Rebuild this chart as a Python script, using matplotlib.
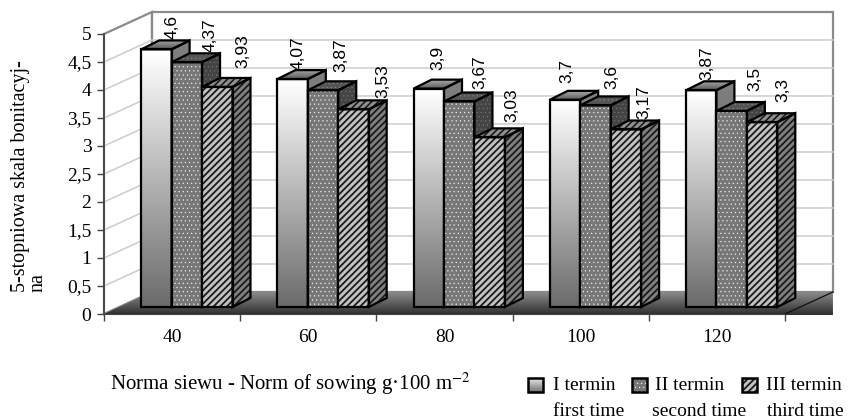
import numpy as np
import matplotlib
matplotlib.use('Agg')
import matplotlib.pyplot as plt
from matplotlib.patches import Polygon, Rectangle

plt.rcParams['font.family'] = ['Liberation Serif', 'DejaVu Serif']

norms = ['40', '60', '80', '100', '120']
termin_1 = [4.6, 4.07, 3.9, 3.7, 3.87]
termin_2 = [4.37, 3.87, 3.67, 3.6, 3.5]
termin_3 = [3.93, 3.53, 3.03, 3.17, 3.3]
y_ticks = [0, 0.5, 1, 1.5, 2, 2.5, 3, 3.5, 4, 4.5, 5]
y_labels = ['0', '0,5', '1', '1,5', '2', '2,5', '3', '3,5', '4', '4,5', '5']

# oblique depth of the box and of one bar, in axis units
DX, DY = 0.352, 0.393
BAR_W = 0.2235
BAR_DX, BAR_DY = 0.132, 0.16
X_OFF, Y_OFF = 0.273, 0.125
# value labels wander a bit in the original: shift from group start / lift above bar, px
LABEL_SHIFT = [[31, 21, 24, 17, 21], [69, 63, 66, 62, 69], [102, 105, 98, 94, 97]]
LABEL_LIFT = [[1, 0, 10, 8, 1], [1, 9, 4, 7, 11], [10, 2, 6, 2, 11]]
PX_X, PX_Y = 136.2, 56.0

W, H = 849, 419
fig = plt.figure(figsize=(W / 100, H / 100), dpi=100)
ax = fig.add_axes([104 / W, 1 - 314 / H, (785 - 104) / W, 280 / H])
ax.set_xlim(0, 5)
ax.set_ylim(0, 5)
ax.patch.set_visible(False)


def gradient(axes, poly, extent, c_top, c_bottom, z):
    ramp = np.linspace(c_top, c_bottom, 64).reshape(-1, 1)
    im = axes.imshow(ramp, cmap='gray', vmin=0, vmax=1, extent=extent,
                     aspect='auto', zorder=z, interpolation='bilinear')
    im.set_clip_box(fig.bbox)
    im.set_clip_path(poly)


def add_poly(pts, face='none', edge='none', lw=0, hatch=None, hatch_lw=1.0, z=3):
    p = Polygon(pts, closed=True, facecolor=face, edgecolor=edge, linewidth=lw,
                hatch=hatch, clip_on=False, zorder=z, joinstyle='miter')
    if hatch:
        p.set_hatch_linewidth(hatch_lw)
    ax.add_patch(p)
    return p


# walls and gridlines
add_poly([(DX, DY), (5 + DX, DY), (5 + DX, 5 + DY), (DX, 5 + DY)], edge='#8a8a8a', lw=1.6, z=1)
add_poly([(0, 0), (DX, DY), (DX, 5 + DY), (0, 5)], edge='#8a8a8a', lw=1.6, z=1)
for v in y_ticks[1:-1]:
    ax.plot([0, DX, 5 + DX], [v, v + DY, v + DY], color='#cccccc', lw=1.1, zorder=1, clip_on=False)

# floor
floor = add_poly([(0, 0), (DX, DY), (5 + DX, DY), (5 + DX, -0.02), (0, -0.02)], z=2)
gradient(ax, floor, (0, 5 + DX, -0.02, DY), 0.56, 0.18, 2)
ax.plot([5, 5 + DX], [0, DY], color='#111111', lw=0.9, zorder=2, clip_on=False)

# bars
series = [termin_1, termin_2, termin_3]
for g in range(len(norms)):
    for s, vals in enumerate(series):
        x0 = g + X_OFF + s * BAR_W
        x1 = x0 + BAR_W
        y0 = Y_OFF
        y1 = vals[g] + Y_OFF
        z = 4 + s
        side = [(x1, y0), (x1 + BAR_DX, y0 + BAR_DY), (x1 + BAR_DX, y1 + BAR_DY), (x1, y1)]
        top = [(x0, y1), (x0 + BAR_DX, y1 + BAR_DY), (x1 + BAR_DX, y1 + BAR_DY), (x1, y1)]
        front = [(x0, y0), (x0, y1), (x1, y1), (x1, y0)]
        if s == 0:
            pf = add_poly(front, z=z)
            gradient(ax, pf, (x0, x1, y0, y1), 1.0, 0.42, z)
            ps = add_poly(side, z=z)
            gradient(ax, ps, (x1, x1 + BAR_DX, y0, y1 + BAR_DY), 0.5, 0.3, z)
            pt = add_poly(top, z=z)
            gradient(ax, pt, (x0, x1 + BAR_DX, y1, y1 + BAR_DY), 0.65, 0.35, z)
        elif s == 1:
            add_poly(front, face='#777777', edge='white', hatch='....', hatch_lw=0.3, z=z)
            add_poly(side, face='#444444', edge='#888888', hatch='....', hatch_lw=0.2, z=z)
            add_poly(top, face='#555555', edge='#999999', hatch='....', hatch_lw=0.2, z=z)
        else:
            add_poly(front, face='#c2c2c2', edge='#1a1a1a', hatch='/////', hatch_lw=1.3, z=z)
            add_poly(side, face='#808080', edge='#1a1a1a', hatch='/////', hatch_lw=1.3, z=z)
            add_poly(top, face='#909090', edge='#1a1a1a', hatch='/////', hatch_lw=1.2, z=z)
        for pts in (front, side, top):
            add_poly(pts, edge='black', lw=1.6, z=z)
        label_x = g + X_OFF + LABEL_SHIFT[s][g] / PX_X
        label_y = y1 + BAR_DY + LABEL_LIFT[s][g] / PX_Y
        ax.text(label_x, label_y, str(vals[g]).replace('.', ','), rotation=90,
                family=['Liberation Sans', 'DejaVu Sans'], fontsize=12.5,
                ha='center', va='bottom', zorder=9, clip_on=False)

# axes
for name in ('top', 'right'):
    ax.spines[name].set_visible(False)
ax.spines['left'].set_color('#444444')
ax.spines['left'].set_linewidth(1.3)
ax.spines['bottom'].set_color('#444444')
ax.set_yticks(y_ticks)
ax.set_yticklabels(y_labels, fontsize=14)
ax.set_xticks(range(6))
ax.set_xticklabels([])
ax.set_xticks(np.arange(5) + 0.5, norms, minor=True, fontsize=14)
ax.tick_params(axis='x', which='minor', length=0, pad=11)
ax.tick_params(axis='both', which='major', length=5, width=1, color='#444444')
ax.tick_params(axis='y', pad=4)
ax.set_ylabel('5-stopniowa skala bonitacyj-\nna', fontsize=14.5, linespacing=0.9,
              multialignment='left', ha='left')
ax.yaxis.set_label_coords(-0.083, 0.0786)

# text and legend placed in picture pixels
ov = fig.add_axes([0, 0, 1, 1])
ov.set_xlim(0, W)
ov.set_ylim(H, 0)
ov.axis('off')
ov.text(290, 384, 'Norma siewu - Norm of sowing g·100 m$^{-2}$', fontsize=15,
        ha='center', va='center', math_fontfamily='stix')

legend_x = [528, 632, 742]
legend_top = ['I termin', 'II termin', 'III termin']
legend_bottom = ['first time', 'second time', 'third time']
for i, lx in enumerate(legend_x):
    if i == 0:
        sw = Rectangle((lx, 378), 15, 14, facecolor='none', edgecolor='none')
        ov.add_patch(sw)
        gradient(ov, sw, (lx, lx + 15, 392, 378), 0.95, 0.45, 2)
    elif i == 1:
        r = Rectangle((lx, 378), 15, 14, facecolor='#777777', edgecolor='white', hatch='....', lw=0)
        r.set_hatch_linewidth(0.3)
        ov.add_patch(r)
    else:
        r = Rectangle((lx, 378), 15, 14, facecolor='#c2c2c2', edgecolor='#1a1a1a', hatch='/////', lw=0)
        r.set_hatch_linewidth(1.3)
        ov.add_patch(r)
    ov.add_patch(Rectangle((lx, 378), 15, 14, facecolor='none', edgecolor='black', lw=1.8, zorder=3))
    ov.text([584, 690, 804][i], 385, legend_top[i], fontsize=14, ha='center', va='center')
    ov.text([589, 699, 805][i], 411, legend_bottom[i], fontsize=14, ha='center', va='center')
ov.set_xlim(0, W)
ov.set_ylim(H, 0)

fig.savefig('out.png', dpi=100)
